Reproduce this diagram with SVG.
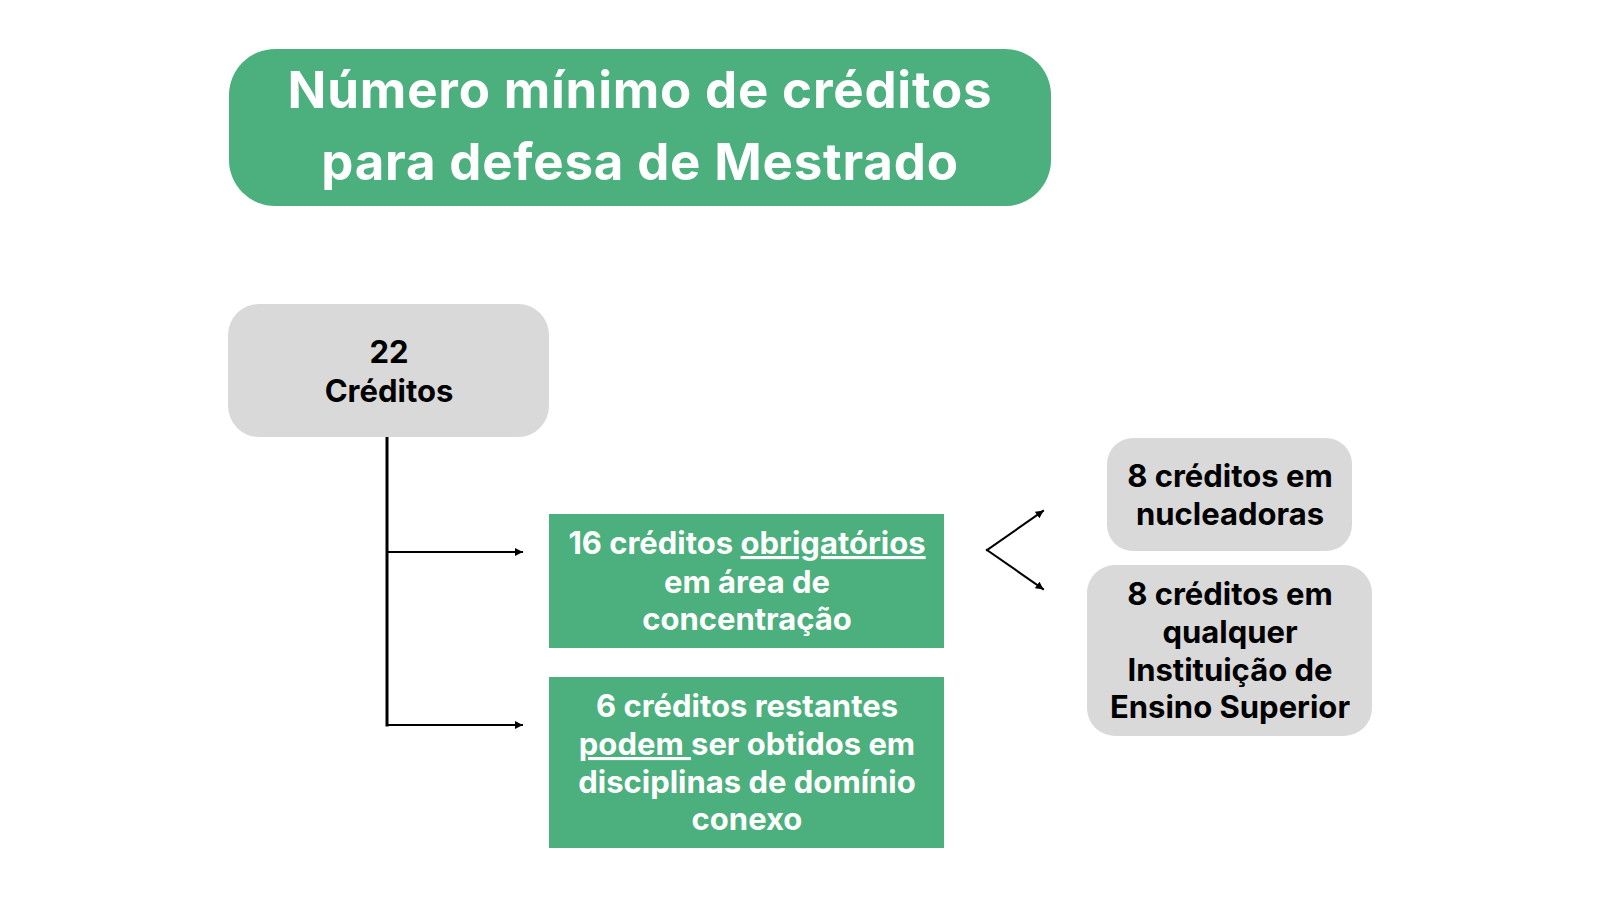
<svg xmlns="http://www.w3.org/2000/svg" width="1600" height="900" viewBox="0 0 1600 900">
<defs>
<style>
.green{fill:#4CAF7E}
.gray{fill:#D9D9D9}
.t{font-family:Inter,"Liberation Sans",sans-serif;font-weight:700;text-anchor:middle}
.w{fill:#FFFFFF}
.k{fill:#000000}
.title{font-size:51px;letter-spacing:0.8px}
.body{font-size:31px}
.con{fill:none;stroke:#000;stroke-linecap:square}
.u{text-decoration:underline}
</style>
<marker id="ah" viewBox="0 0 10 10" refX="9" refY="5" markerWidth="8" markerHeight="8" markerUnits="userSpaceOnUse" orient="auto">
<path d="M0,0 L10,5 L0,10 Z" fill="#000"/>
</marker>
</defs>
<rect width="1600" height="900" fill="#FFFFFF"/>
<g id="title">
<rect class="green" x="229" y="49" width="822" height="157" rx="46" ry="46"/>
<text class="t w title" x="640" y="108">Número mínimo de créditos</text>
<text class="t w title" x="640" y="180">para defesa de Mestrado</text>
</g>
<g id="connectors">
<line class="con" x1="387" y1="438" x2="387" y2="725" stroke-width="3"/>
<line class="con" x1="387" y1="552" x2="522" y2="552" stroke-width="2" marker-end="url(#ah)"/>
<line class="con" x1="387" y1="725" x2="522" y2="725" stroke-width="2" marker-end="url(#ah)"/>
<line class="con" x1="987" y1="550" x2="1043" y2="511" stroke-width="2" marker-end="url(#ah)"/>
<line class="con" x1="987" y1="550" x2="1043" y2="589" stroke-width="2" marker-end="url(#ah)"/>
</g>
<g id="total">
<rect class="gray" x="228" y="304" width="321" height="133" rx="31" ry="31"/>
<text class="t k body" x="389" y="363">22</text>
<text class="t k body" x="389" y="402">Créditos</text>
</g>
<g id="obrigatorios">
<rect class="green" x="549" y="514" width="395" height="134"/>
<text class="t w body" x="747" y="554">16 créditos <tspan class="u">obrigatórios</tspan></text>
<text class="t w body" x="747" y="593">em área de</text>
<text class="t w body" x="747" y="630">concentração</text>
</g>
<g id="restantes">
<rect class="green" x="549" y="677" width="395" height="171"/>
<text class="t w body" x="747" y="717">6 créditos restantes</text>
<text class="t w body" x="747" y="755"><tspan class="u">podem </tspan>ser obtidos em</text>
<text class="t w body" x="747" y="793">disciplinas de domínio</text>
<text class="t w body" x="747" y="830">conexo</text>
</g>
<g id="nucleadoras">
<rect class="gray" x="1107" y="438" width="245" height="113" rx="26" ry="26"/>
<text class="t k body" x="1230" y="487">8 créditos em</text>
<text class="t k body" x="1230" y="525">nucleadoras</text>
</g>
<g id="qualquer">
<rect class="gray" x="1087" y="565" width="285" height="171" rx="28" ry="28"/>
<text class="t k body" x="1230" y="605">8 créditos em</text>
<text class="t k body" x="1230" y="643">qualquer</text>
<text class="t k body" x="1230" y="681">Instituição de</text>
<text class="t k body" x="1230" y="718">Ensino Superior</text>
</g>
</svg>
